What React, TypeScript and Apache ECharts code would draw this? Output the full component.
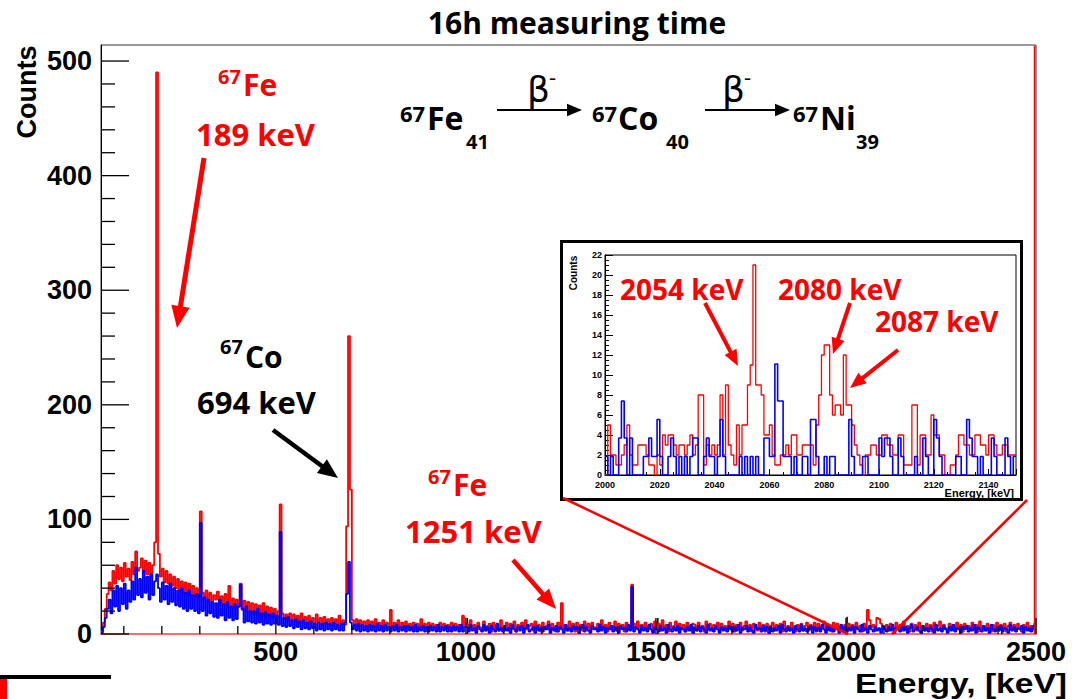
import React, { useEffect, useRef } from 'react';
import * as echarts from 'echarts';

// ---------- axis ranges ----------
const X_MIN = 40;
const X_MAX = 2500;
const Y_MAX = 514;
const INSET_X_MIN = 2000;
const INSET_X_MAX = 2150;
const INSET_Y_MAX = 22;

// ---------- main spectrum (counts per 5 keV bin, starting at 40 keV) ----------
const BIN_START = 40;
const BIN_WIDTH = 5;

const redLow = [
  2, 10, 22, 35, 45, 38, 55, 44, 60, 48, 58, 46, 62, 50, 57, 47, 63, 52, 72, 55,
  58, 66, 54, 64, 52, 62, 50, 60, 80, 490, 70, 50, 57, 45, 55, 44, 52, 42, 50, 40,
  48, 38, 46, 36, 45, 35, 44, 34, 42, 33, 40, 32, 107, 36, 30, 38, 28, 36, 27, 34,
  30, 37, 26, 33, 25, 35, 24, 42, 23, 31, 22, 30, 24, 44, 21, 29, 20, 28, 19, 27,
  18, 26, 17, 25, 16, 27, 15, 24, 16, 23, 14, 22, 15, 20, 113, 18, 13, 17, 12, 18,
  12, 17, 11, 16, 10, 18, 11, 15, 9, 16, 10, 14, 9, 17, 10, 14, 8, 15, 9, 13,
  8, 14, 9, 13, 8, 16, 9, 12, 8, 94, 260, 126, 12, 8, 13, 7, 12, 8, 11, 7,
  12, 7, 11, 6, 13, 7, 10, 6, 12, 7, 10, 6, 21, 6, 10, 5, 12, 6, 10, 5,
  11, 6, 9, 5, 10, 6, 9, 5, 13, 6, 9, 5, 10, 5, 9, 6, 8, 5, 10, 6,
  9, 5, 8, 6, 10, 5, 9, 6, 8, 5, 16, 6,
];

const redHigh = [
  9, 3, 12, 5, 8, 2, 10, 6, 4, 11, 3, 7, 9, 2, 10, 5, 8, 3, 12, 4,
  7, 10, 3, 9, 5, 11, 2, 8, 6, 10, 3, 12, 4, 7, 9, 3, 11, 5, 8, 2,
  10, 4, 7, 11, 3, 9, 6, 2, 10, 5, 27, 4, 8, 3, 11, 6, 9, 2, 10, 4,
  8, 3, 11, 5, 9, 2, 10, 6, 4, 9, 3, 12, 5, 8, 2, 10, 4, 7, 11, 3,
  9, 5, 8, 2, 10, 4, 4, 43, 9, 6, 11, 2, 8, 5, 10, 3, 7, 9, 2, 11,
  4, 9, 3, 12, 6, 8, 2, 10, 5, 7, 11, 3, 9, 4, 8, 2, 10, 6, 3, 9,
  8, 3, 10, 5, 7, 2, 11, 4, 9, 3, 8, 6, 10, 2, 9, 5, 7, 3, 11, 4,
  9, 2, 8, 5, 10, 3, 7, 11, 4, 8, 2, 9, 6, 3, 10, 4, 8, 2, 9, 5,
  7, 10, 3, 8, 5, 9, 2, 11, 4, 7, 3, 10, 6, 2, 8, 5, 9, 3, 7, 10,
  3, 8, 5, 10, 2, 9, 4, 7, 11, 3, 8, 6, 2, 10, 4, 9, 3, 7, 5, 8,
  2, 9, 4, 8, 3, 10, 5, 7, 2, 9, 4, 21, 12, 6, 8, 3, 14, 13, 9, 7,
  4, 8, 3, 9, 6, 2, 10, 5, 8, 3, 11, 4, 7, 2, 9, 5, 8, 3, 10, 4,
  7, 3, 9, 5, 8, 2, 10, 4, 7, 11, 3, 8, 5, 2, 9, 6, 8, 3, 10, 4,
  8, 2, 9, 5, 7, 3, 10, 4, 8, 2, 11, 5, 7, 3, 9, 6, 2, 8, 4, 10,
  3, 8, 5, 9, 2, 7, 10, 4, 8, 3, 9, 5, 2, 8, 6, 10, 3, 7, 4, 9,
];

const blueLow = [
  1, 6, 14, 22, 30, 18, 38, 24, 42, 20, 40, 26, 44, 22, 38, 28, 46, 30, 58, 34,
  48, 32, 55, 36, 50, 30, 52, 34, 46, 52, 40, 28, 45, 30, 42, 26, 44, 28, 40, 25,
  38, 24, 40, 22, 36, 20, 38, 22, 34, 20, 35, 18, 97, 20, 32, 16, 30, 18, 28, 15,
  27, 14, 30, 16, 26, 12, 28, 14, 24, 12, 26, 13, 24, 43, 22, 10, 24, 11, 20, 10,
  20, 9, 22, 10, 18, 8, 19, 9, 17, 8, 18, 9, 16, 8, 89, 7, 14, 6, 15, 7,
  12, 5, 13, 6, 11, 4, 12, 5, 10, 4, 11, 5, 9, 3, 10, 4, 9, 3, 10, 4,
  9, 3, 10, 4, 8, 3, 9, 3, 10, 35, 63, 10, 4, 8, 3, 9, 2, 8, 3, 7,
  2, 8, 3, 7, 2, 9, 3, 7, 2, 8, 3, 6, 2, 7, 3, 8, 2, 6, 3, 7,
  2, 7, 3, 6, 2, 8, 2, 6, 3, 7, 2, 6, 2, 7, 3, 6, 2, 8, 2, 6,
  3, 7, 2, 6, 2, 7, 3, 6, 2, 8, 2, 6,
];

const blueHigh = [
  6, 2, 8, 3, 5, 1, 7, 4, 2, 8, 3, 6, 1, 7, 4, 2, 9, 3, 5, 2,
  7, 3, 5, 1, 8, 4, 2, 6, 3, 7, 1, 5, 8, 2, 4, 6, 1, 7, 3, 5,
  2, 6, 4, 8, 1, 5, 3, 7, 2, 6, 4, 1, 8, 3, 5, 2, 7, 4, 6, 1,
  5, 8, 2, 6, 3, 1, 7, 4, 5, 2, 8, 3, 6, 1, 5, 4, 7, 2, 6, 3,
  1, 7, 4, 5, 2, 8, 3, 41, 2, 6, 4, 1, 7, 3, 5, 2, 8, 4, 1, 6,
  4, 2, 7, 3, 5, 1, 8, 4, 2, 6, 3, 7, 1, 5, 4, 2, 6, 3, 8, 1,
  5, 3, 7, 2, 6, 4, 1, 8, 3, 5, 2, 7, 4, 1, 6, 3, 5, 2, 7, 4,
  2, 6, 3, 8, 1, 5, 4, 7, 2, 6, 3, 1, 8, 4, 5, 2, 7, 3, 6, 1,
  6, 2, 5, 3, 7, 1, 8, 4, 2, 6, 3, 5, 1, 7, 4, 2, 8, 3, 5, 2,
  4, 7, 1, 6, 3, 5, 2, 8, 4, 1, 7, 3, 6, 2, 5, 4, 1, 8, 3, 6,
  2, 5, 3, 7, 1, 6, 4, 2, 8, 3, 5, 1, 7, 4, 2, 6, 3, 5, 1, 7,
  4, 2, 6, 3, 8, 1, 5, 4, 2, 7, 3, 6, 1, 5, 8, 2, 4, 6, 3, 1,
  7, 3, 5, 2, 6, 4, 1, 8, 3, 5, 2, 7, 4, 1, 6, 3, 8, 2, 5, 4,
  1, 6, 4, 7, 2, 5, 3, 8, 1, 6, 4, 2, 7, 3, 5, 1, 8, 4, 2, 6,
  3, 7, 2, 5, 4, 1, 8, 3, 6, 2, 5, 4, 7, 1, 6, 3, 5, 2, 7, 4,
];

// sparse black (third histogram) spikes [keV, counts]
const blackSpikes = [
  [1004, 14],
  [1505, 14],
  [2003, 15],
  [2410, 8],
];

// ---------- inset spectrum, 1 keV bins from 2000 keV ----------
const redInset = [
  0, 5, 2, 2, 1, 1, 2, 3, 5, 2, 1, 1, 3, 3, 3, 2, 1, 1, 0, 2,
  1, 4, 3, 4, 4, 3, 2, 3, 3, 2, 3, 4, 2, 3, 8, 8, 1, 3, 2, 3,
  2, 3, 8, 2, 9, 3, 2, 1, 5, 2, 5, 5, 9, 11, 21, 9, 9, 8, 4, 4,
  5, 2, 1, 1, 2, 2, 3, 2, 4, 4, 2, 2, 3, 3, 3, 3, 1, 5, 8, 12,
  13, 13, 8, 6, 7, 7, 6, 12, 7, 7, 5, 3, 2, 1, 0, 2, 2, 3, 3, 2,
  2, 4, 4, 3, 3, 2, 2, 4, 4, 1, 1, 1, 7, 7, 1, 4, 4, 2, 2, 6,
  4, 4, 2, 2, 0, 0, 1, 1, 2, 4, 4, 3, 3, 2, 2, 4, 4, 3, 3, 2,
  4, 4, 3, 2, 2, 3, 3, 2, 2, 2,
];

const blueInset = [
  1.85, 0, 1.85, 0, 0, 3.7, 7.4, 3.7, 0, 3.7, 0, 0, 0, 0, 1.85, 1.85, 3.7, 1.85, 1.85, 5.55,
  1.85, 0, 0, 1.85, 3.7, 1.85, 0, 1.85, 0, 1.85, 0, 1.85, 3.7, 3.7, 0, 0, 1.85, 3.7, 1.85, 1.85,
  0, 1.85, 5.55, 1.85, 0, 0, 0, 0, 0, 1.85, 0, 1.85, 0, 1.85, 0, 1.85, 0, 0, 3.7, 3.7,
  1.85, 1.85, 11.1, 7.4, 7.4, 1.85, 1.85, 1.85, 0, 1.85, 0, 0, 1.85, 1.85, 0, 5.55, 5.55, 1.85, 0, 0,
  1.85, 0, 1.85, 1.85, 0, 0, 0, 0, 0, 5.55, 1.85, 0, 0, 0, 1.85, 1.85, 0, 0, 0, 0,
  3.7, 1.85, 3.7, 3.7, 1.85, 0, 0, 3.7, 1.85, 0, 0, 0, 0, 1.85, 0, 0, 3.7, 1.85, 0, 0,
  5.55, 3.7, 1.85, 0, 0, 0, 0, 0, 1.85, 1.85, 0, 0, 5.55, 3.7, 1.85, 1.85, 0, 1.85, 0, 0,
  0, 3.7, 1.85, 0, 0, 0, 3.7, 1.85, 0, 1.85,
];

// ---------- tick labels ----------
const xMajorTicks = [500, 1000, 1500, 2000, 2500];
const xMinorTicks = [100, 200, 300, 400, 600, 700, 800, 900, 1100, 1200, 1300, 1400, 1600, 1700, 1800, 1900, 2100, 2200, 2300, 2400];
const yMajorTicks = [0, 100, 200, 300, 400, 500];
const yMinorTicks = [20, 40, 60, 80, 120, 140, 160, 180, 220, 240, 260, 280, 320, 340, 360, 380, 420, 440, 460, 480];

// ---------- helpers ----------
function buildHist(low: number[], high: number[]) {
  const vals = low.concat(high);
  const pts: number[][] = vals.map((v, i) => [BIN_START + i * BIN_WIDTH, v]);
  pts.push([X_MAX, vals[vals.length - 1]]);
  return pts;
}
function buildInset(vals: number[]) {
  const pts: number[][] = vals.map((v, i) => [INSET_X_MIN + i, v]);
  pts.push([INSET_X_MAX, vals[vals.length - 1]]);
  return pts;
}

const ANN = '"Open Sans", "Liberation Sans", sans-serif';
const AX = '"Liberation Sans", Arial, sans-serif';

function txt(text: string, x: number, y: number, size: number, color: string, o: any = {}) {
  const align = o.align || 'left';
  return {
    type: 'text',
    x,
    y,
    z: 100,
    silent: true,
    rotation: o.rotation || 0,
    scaleX: o.scaleX || 1,
    style: {
      text,
      fill: color,
      font: `${o.weight || 'bold'} ${size}px ${o.family || ANN}`,
      align,
      textAlign: align,
      verticalAlign: 'middle',
      textVerticalAlign: 'middle',
    },
  };
}

function arrow(x1: number, y1: number, x2: number, y2: number, color: string, w: number, head: number) {
  const a = Math.atan2(y2 - y1, x2 - x1);
  const hw = head * 0.42;
  const bx = x2 - head * Math.cos(a);
  const by = y2 - head * Math.sin(a);
  const px = -Math.sin(a);
  const py = Math.cos(a);
  return [
    { type: 'line', z: 100, silent: true, shape: { x1, y1, x2: bx + Math.cos(a) * 2, y2: by + Math.sin(a) * 2 }, style: { stroke: color, lineWidth: w } },
    {
      type: 'polygon',
      z: 100,
      silent: true,
      shape: { points: [[x2, y2], [bx + px * hw, by + py * hw], [bx - px * hw, by - py * hw]] },
      style: { fill: color },
    },
  ];
}

function line(x1: number, y1: number, x2: number, y2: number, color: string, w: number) {
  return { type: 'line', z: 100, silent: true, shape: { x1, y1, x2, y2 }, style: { stroke: color, lineWidth: w } };
}

export default function App() {
  const ref = useRef<HTMLDivElement>(null);

  useEffect(() => {
    if (!ref.current) return;
    const chart = echarts.init(ref.current, undefined, { renderer: 'svg' });

    const tickData: number[][] = [];
    xMajorTicks.forEach((v) => tickData.push([v, 0, 0, 16]));
    xMinorTicks.forEach((v) => tickData.push([v, 0, 0, 8]));
    yMajorTicks.forEach((v) => tickData.push([X_MIN, v, 1, 28]));
    yMinorTicks.forEach((v) => tickData.push([X_MIN, v, 1, 14]));

    const graphics: any[] = [
      // title
      txt('16h measuring time', 577, 22, 30, '#000', { align: 'center' }),
      // axis titles
      txt('Counts', 27, 92, 27, '#000', { align: 'center', rotation: Math.PI / 2, family: AX }),
      txt('Energy, [keV]', 1067, 683, 28, '#000', { align: 'right', family: AX, scaleX: 1.2 }),
      // decay chain
      txt('67', 400, 113, 22, '#000'),
      txt('Fe', 427, 117, 32, '#000'),
      txt('41', 466, 141, 20, '#000'),
      txt('67', 592, 113, 22, '#000'),
      txt('Co', 618, 117, 32, '#000'),
      txt('40', 666, 141, 20, '#000'),
      txt('67', 793, 113, 22, '#000'),
      txt('Ni', 820, 117, 32, '#000'),
      txt('39', 856, 141, 20, '#000'),
      txt('β', 527, 89, 36, '#000', { weight: 'normal', family: '"DejaVu Sans", sans-serif' }),
      txt('-', 549, 76, 22, '#000', { weight: 'normal' }),
      txt('β', 722, 89, 36, '#000', { weight: 'normal', family: '"DejaVu Sans", sans-serif' }),
      txt('-', 744, 76, 22, '#000', { weight: 'normal' }),
      ...arrow(497, 110, 582, 110, '#000', 2, 15),
      ...arrow(705, 110, 790, 110, '#000', 2, 15),
      // 67Fe 189 keV
      txt('67', 218, 76, 20, '#ff0000'),
      txt('Fe', 243, 84, 30, '#ff0000'),
      txt('189 keV', 196, 134, 31, '#ff0000'),
      ...arrow(204, 158, 177, 328, '#ff0000', 5, 22),
      // 67Co 694 keV
      txt('67', 220, 346, 20, '#000'),
      txt('Co', 245, 356, 30, '#000'),
      txt('694 keV', 197, 402, 31, '#000'),
      ...arrow(273, 430, 338, 478, '#000', 4.5, 20),
      // 67Fe 1251 keV
      txt('67', 428, 476, 20, '#ff0000'),
      txt('Fe', 453, 484, 30, '#ff0000'),
      txt('1251 keV', 405, 531, 31, '#ff0000'),
      ...arrow(513, 560, 556, 609, '#ff0000', 4.5, 20),
      // inset frame
      {
        type: 'rect',
        z: 1,
        silent: true,
        shape: { x: 561.5, y: 241.5, width: 460, height: 258 },
        style: { fill: 'rgba(0,0,0,0)', stroke: '#000', lineWidth: 3 },
      },
      txt('Counts', 573, 273, 10, '#000', { align: 'center', rotation: Math.PI / 2, family: AX }),
      txt('Energy, [keV]', 1014, 493, 10, '#000', { align: 'right', family: AX, scaleX: 1.1 }),
      txt('2054 keV', 620, 289, 28, '#ff0000'),
      txt('2080 keV', 778, 289, 28, '#ff0000'),
      txt('2087 keV', 875, 321, 28, '#ff0000'),
      ...arrow(705, 303, 738, 366, '#ff0000', 4, 16),
      ...arrow(850, 303, 833, 354, '#ff0000', 4, 16),
      ...arrow(898, 350, 850, 388, '#ff0000', 4, 16),
      // zoom connectors
      line(563, 498, 848, 634, '#ff0000', 2.5),
      line(1027, 500, 892, 634, '#ff0000', 2.5),
      // right-edge red line
      line(1034.5, 46, 1034.5, 634, '#ff0000', 1.5),
      // slide decorations bottom-left
      { type: 'rect', z: 100, silent: true, shape: { x: 0, y: 675, width: 111, height: 4 }, style: { fill: '#000' } },
      { type: 'rect', z: 100, silent: true, shape: { x: 0, y: 679, width: 7, height: 20 }, style: { fill: '#ff0000' } },
    ];

    const option: any = {
      animation: false,
      backgroundColor: '#ffffff',
      grid: [
        { left: 101, top: 45, right: 48, bottom: 65, show: true, borderColor: '#333', borderWidth: 1, containLabel: false },
        { left: 605, top: 255, right: 68, bottom: 224, show: true, borderColor: '#000', borderWidth: 1, containLabel: false },
      ],
      xAxis: [
        {
          type: 'value',
          gridIndex: 0,
          min: X_MIN,
          max: X_MAX,
          interval: 20,
          axisLine: { show: true, lineStyle: { color: '#ff6a6a', width: 2 } },
          axisTick: { show: false },
          splitLine: { show: false },
          axisLabel: {
            margin: 4,
            color: '#000',
            fontFamily: AX,
            fontWeight: 'bold',
            fontSize: 27,
            formatter: (v: number) => (xMajorTicks.indexOf(Math.round(v)) >= 0 && Math.abs(v - Math.round(v)) < 1e-6 ? String(Math.round(v)) : ''),
          },
        },
        {
          type: 'value',
          gridIndex: 1,
          min: INSET_X_MIN,
          max: INSET_X_MAX,
          interval: 20,
          axisLine: { show: true, lineStyle: { color: '#000', width: 1 } },
          axisTick: { show: true, inside: true, length: 6, lineStyle: { color: '#000' } },
          minorTick: { show: true, splitNumber: 4, length: 3, lineStyle: { color: '#000' } },
          splitLine: { show: false },
          axisLabel: {
            margin: 5,
            color: '#000',
            fontFamily: AX,
            fontWeight: 'bold',
            fontSize: 9,
            formatter: (v: number) => (Math.round(v) % 20 === 0 && Math.round(v) < INSET_X_MAX ? String(Math.round(v)) : ''),
          },
        },
      ],
      yAxis: [
        {
          type: 'value',
          gridIndex: 0,
          min: 0,
          max: Y_MAX,
          interval: 100,
          axisLine: { show: true, lineStyle: { color: '#000', width: 1 } },
          axisTick: { show: false },
          splitLine: { show: false },
          axisLabel: {
            margin: 9,
            color: '#000',
            fontFamily: AX,
            fontWeight: 'bold',
            fontSize: 27,
            padding: [8, 0, 0, 0],
            formatter: (v: number) => (Math.round(v) % 100 === 0 ? String(Math.round(v)) : ''),
          },
        },
        {
          type: 'value',
          gridIndex: 1,
          min: 0,
          max: INSET_Y_MAX,
          interval: 2,
          axisLine: { show: true, lineStyle: { color: '#000', width: 1 } },
          axisTick: { show: true, inside: true, length: 8, lineStyle: { color: '#000' } },
          minorTick: { show: true, splitNumber: 4, length: 4, lineStyle: { color: '#000' } },
          splitLine: { show: false },
          axisLabel: { margin: 3, color: '#000', fontFamily: AX, fontWeight: 'bold', fontSize: 9 },
        },
      ],
      series: [
        {
          name: 'black',
          type: 'bar',
          xAxisIndex: 0,
          yAxisIndex: 0,
          data: blackSpikes,
          barWidth: 1.5,
          itemStyle: { color: '#000' },
          silent: true,
          z: 1,
        },
        {
          name: 'red',
          type: 'line',
          xAxisIndex: 0,
          yAxisIndex: 0,
          step: 'end',
          data: buildHist(redLow, redHigh),
          showSymbol: false,
          symbol: 'none',
          lineStyle: { color: '#ff0000', width: 1.8 },
          silent: true,
          z: 2,
        },
        {
          name: 'blue',
          type: 'line',
          xAxisIndex: 0,
          yAxisIndex: 0,
          step: 'end',
          data: buildHist(blueLow, blueHigh),
          showSymbol: false,
          symbol: 'none',
          lineStyle: { color: '#0000ff', width: 1.8 },
          silent: true,
          z: 3,
        },
        {
          name: 'ticks',
          type: 'custom',
          xAxisIndex: 0,
          yAxisIndex: 0,
          data: tickData,
          clip: false,
          silent: true,
          z: 5,
          renderItem: (_p: any, api: any) => {
            const kind = api.value(2);
            const len = api.value(3);
            const pt = api.coord([api.value(0), api.value(1)]);
            if (kind === 0) {
              return { type: 'line', shape: { x1: pt[0], y1: pt[1], x2: pt[0], y2: pt[1] - len }, style: { stroke: '#000', lineWidth: 1.3 } };
            }
            return { type: 'line', shape: { x1: pt[0], y1: pt[1], x2: pt[0] + len, y2: pt[1] }, style: { stroke: '#000', lineWidth: 1.3 } };
          },
        },
        {
          name: 'red inset',
          type: 'line',
          xAxisIndex: 1,
          yAxisIndex: 1,
          step: 'end',
          data: buildInset(redInset),
          showSymbol: false,
          symbol: 'none',
          lineStyle: { color: '#ff0000', width: 1.3 },
          silent: true,
          z: 6,
        },
        {
          name: 'blue inset',
          type: 'line',
          xAxisIndex: 1,
          yAxisIndex: 1,
          step: 'end',
          data: buildInset(blueInset),
          showSymbol: false,
          symbol: 'none',
          lineStyle: { color: '#0000ff', width: 1.6 },
          silent: true,
          z: 7,
        },
      ],
      graphic: { elements: graphics },
    };

    chart.setOption(option);
    return () => chart.dispose();
  }, []);

  return <div ref={ref} style={{ position: 'fixed', left: 0, top: 0, width: 1084, height: 699, background: '#fff' }} />;
}
